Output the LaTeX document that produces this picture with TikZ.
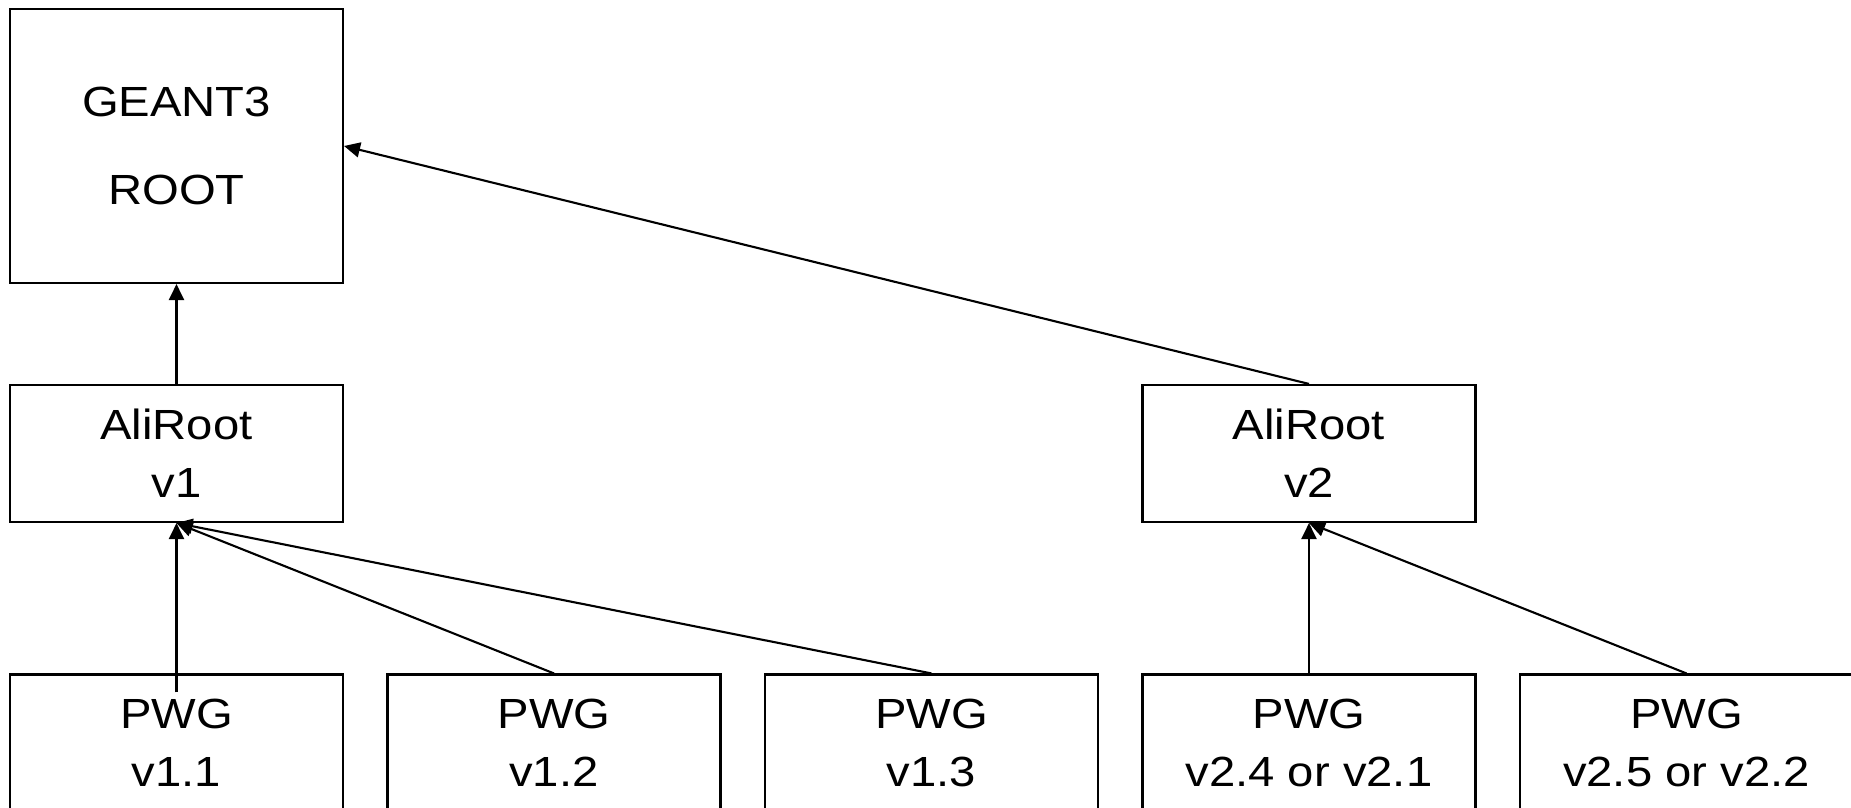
\documentclass[tikz,border=0pt]{standalone}
\usepackage{fontspec}
\setmainfont[FakeStretch=1.12]{Liberation Sans}
\usetikzlibrary{arrows.meta}

\begin{document}
\begin{tikzpicture}[every node/.style={font=\fontsize{24}{33}\selectfont},
    box/.style={draw, line width=1.2pt, minimum width=6.66cm,
      minimum height=2.74cm, align=center, inner sep=0pt},
    link/.style={-{Triangle[length=0.32cm, width=0.3cm]}, line width=1.2pt}]
      \useasboundingbox (0,0) rectangle (37.02,16.16);
      \node[box, minimum height=5.48cm, font=\fontsize{24}{50}\selectfont]
        (geant) at (3.53,13.24) {GEANT3\\ROOT};
      \node[box] (ali1) at (3.53,7.09) {AliRoot\\v1};
      \node[box] (ali2) at (26.18,7.09) {AliRoot\\v2};
      \node[box] (pwg11) at (3.53,1.3) {PWG\\v1.1};
      \node[box] (pwg12) at (11.08,1.3) {PWG\\v1.2};
      \node[box] (pwg13) at (18.63,1.3) {PWG\\v1.3};
      \node[box] (pwg24) at (26.18,1.3) {PWG\\v2.4 or v2.1};
      \node[box] (pwg25) at (33.73,1.3) {PWG\\v2.5 or v2.2};
      \draw[link] (ali1.north) -- (geant.south);
      \draw[link] (ali2.north) -- (geant.east);
      \draw[link] ([yshift=-0.38cm]pwg11.north) -- (ali1.south);
      \draw[link] (pwg12.north) -- (ali1.south);
      \draw[link] (pwg13.north) -- (ali1.south);
      \draw[link] (pwg24.north) -- (ali2.south);
      \draw[link] (pwg25.north) -- (ali2.south);
    \end{tikzpicture}
\end{document}
